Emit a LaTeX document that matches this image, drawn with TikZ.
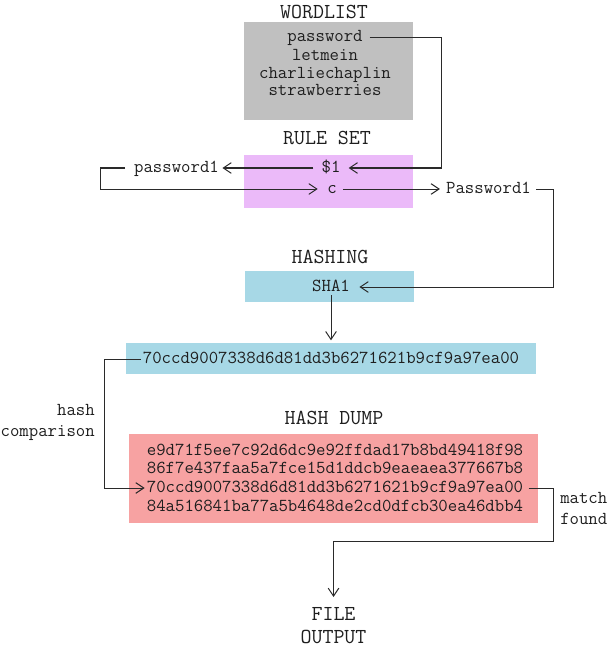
\documentclass[tikz,border=0pt]{standalone}
\usepackage{fontspec}
\usetikzlibrary{arrows.meta}
\definecolor{wlgray}{HTML}{C0C0C0}
\definecolor{rspink}{HTML}{EBBAF9}
\definecolor{hblue}{HTML}{A7D8E6}
\definecolor{dred}{HTML}{F7A2A2}
\definecolor{ink}{HTML}{1E1E1E}
\definecolor{wire}{HTML}{2A2A2A}
\begin{document}
\begin{tikzpicture}[x=0.75pt,y=-0.75pt,
  box/.style={draw=none,inner sep=0,outer sep=0},
  txt/.style={inner sep=0,text=ink,font=\ttfamily\fontsize{13.7}{16}\selectfont,text height=6pt,text depth=0pt},
  ttl/.style={inner sep=0,text=ink,font=\ttfamily\fontsize{16}{19}\selectfont,text height=9.5pt,text depth=0pt},
  lbl/.style={inner sep=0,text=ink,font=\ttfamily\fontsize{13.7}{15.75}\selectfont},
  arr/.style={draw=wire,line width=0.75pt,-{Straight Barb[length=6pt,width=8pt]}},
]
\useasboundingbox (0,0) rectangle (610,649);
% boxes
\node[box,fill=wlgray,minimum width=126.75pt,minimum height=73.5pt] (wlbox) at (328.5,71) {};
\node[box,fill=rspink,minimum width=126.75pt,minimum height=39.75pt] (rsbox) at (328.5,181.5) {};
\node[box,fill=hblue,minimum width=126.75pt,minimum height=23.25pt] (hbox) at (329.5,286.5) {};
\node[box,fill=hblue,minimum width=307.5pt,minimum height=23.25pt] (hb) at (331,358.5) {};
\node[box,fill=dred,minimum width=306.75pt,minimum height=66.75pt] (dbox) at (333.5,478.5) {};
% titles
\node[ttl] (twl) at (324,12) {WORDLIST};
\node[ttl] (trs) at (327,138) {RULE SET};
\node[ttl] (th) at (330,257) {HASHING};
\node[ttl] (td) at (334,418) {HASH DUMP};
% wordlist
\node[txt] (pw) at (325,38) {password};
\node[txt] (lm) at (325,57) {letmein};
\node[txt] (cc) at (325,74.5) {charliechaplin};
\node[txt] (sb) at (325,92) {strawberries};
% rules
\node[txt] (s1) at (331,168) {\$1};
\node[txt] (c) at (332,189) {c};
\node[txt] (p1) at (176.5,168) {password1};
\node[txt] (P1) at (488.5,189) {Password1};
% hashing
\node[txt] (sha) at (331,287) {SHA1};
\node[txt] (hx) at (331,359) {70ccd9007338d6d81dd3b6271621b9cf9a97ea00};
% dump
\node[txt] (d1) at (335,451) {e9d71f5ee7c92d6dc9e92ffdad17b8bd49418f98};
\node[txt] (d2) at (335,469.5) {86f7e437faa5a7fce15d1ddcb9eaeaea377667b8};
\node[txt] (d3) at (335,488) {70ccd9007338d6d81dd3b6271621b9cf9a97ea00};
\node[txt] (d4) at (335,507) {84a516841ba77a5b4648de2cd0dfcb30ea46dbb4};
% labels
\node[lbl,align=right,anchor=north east] (hc) at (95,404) {hash\\comparison};
\node[lbl,align=left,anchor=north west] (mf) at (560,492) {match\\found};
\node[ttl,text height=,text depth=,align=center,anchor=north,font=\ttfamily\fontsize{16}{17.25}\selectfont] (out) at (333.5,607) {FILE\\OUTPUT};
% corner coordinates
\coordinate (r1) at (441,0);
\coordinate (r2) at (100,0);
\coordinate (r3) at (553,0);
\coordinate (r4) at (104,0);
\coordinate (m1) at (553,541);
\coordinate (m2) at (333.5,541);
% connectors
\draw[arr,shorten <=5pt,shorten >=6pt] (pw.east) -- (pw.east -| r1) |- (s1.east);
\draw[arr,shorten <=6pt,shorten >=2.5pt] (s1.west) -- (p1.east);
\draw[arr,shorten <=6.5pt,shorten >=7pt] (p1.west) -- (p1.west -| r2) |- (c.west);
\draw[arr,shorten <=4.5pt,shorten >=4.5pt] (c.east) -- (P1.west);
\draw[arr,shorten <=4pt,shorten >=7pt] (P1.east) -- (P1.east -| r3) |- (sha.east);
\draw[arr,shorten <=3pt,shorten >=2pt] (sha.south) -- (sha.south |- hb.north);
\draw[arr,shorten <=1.5pt,shorten >=1.5pt] (hx.west) -- (hx.west -| r4) |- (d3.west);
\draw[arr,shorten <=4pt,shorten >=7.5pt] (d3.east) -- (d3.east -| m1) -- (m1) -- (m2) -- (out.north);
\end{tikzpicture}
\end{document}
